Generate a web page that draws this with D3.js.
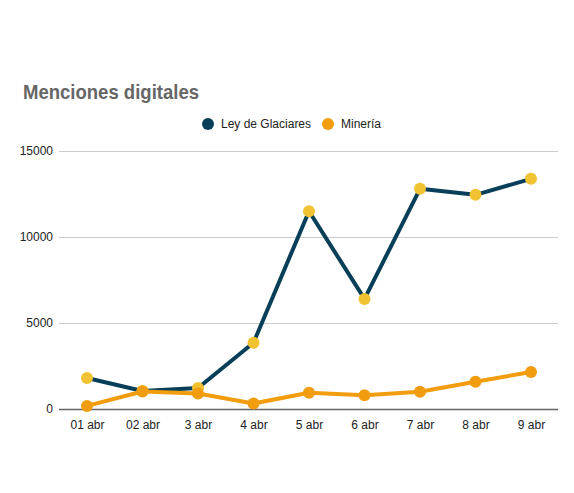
<!DOCTYPE html>
<html lang="es">
  <head>
    <meta charset="UTF-8" />
    <title>Menciones digitales</title>
    <script src="https://cdn.jsdelivr.net/npm/d3@7/dist/d3.min.js"></script>
    <style>
      body { margin: 0; background: #fff; }
      text { font-family: 'Liberation Sans', Arial, sans-serif; }
    </style>
  </head>
  <body>
    <svg width="574" height="493"></svg>
    <script>
      // datos
      const days = ['01 abr', '02 abr', '3 abr', '4 abr', '5 abr', '6 abr', '7 abr', '8 abr', '9 abr']
      const glaciares = [1800, 1050, 1220, 3850, 11500, 6400, 12800, 12450, 13380]
      const mineria = [180, 1020, 900, 320, 940, 800, 1000, 1580, 2150]
      const yTicks = [0, 5000, 10000, 15000]

      const svg = d3.select('svg')

      const x = d3.scalePoint().domain(days).range([87, 531])
      const y = d3.scaleLinear().domain([0, 15000]).range([409, 151])

      // título
      svg.append('text')
        .attr('x', 23).attr('y', 99)
        .attr('font-size', 21).attr('font-weight', 'bold')
        .attr('fill', '#666')
        .attr('textLength', 176)
        .attr('lengthAdjust', 'spacingAndGlyphs')
        .text('Menciones digitales')

      // leyenda
      const legend = [
        { name: 'Ley de Glaciares', color: '#063f57', x: 208 },
        { name: 'Minería', color: '#f29c0f', x: 328 },
      ]
      const lg = svg.append('g').selectAll('g').data(legend).enter().append('g')
      lg.append('circle').attr('cx', d => d.x).attr('cy', 124).attr('r', 6).attr('fill', d => d.color)
      lg.append('text').attr('x', d => d.x + 13).attr('y', 128)
        .attr('font-size', 12).attr('fill', '#222').text(d => d.name)

      // rejilla y eje y
      const yAxis = d3.axisLeft(y).tickValues(yTicks).tickFormat(d3.format('d'))
        .tickSize(-(558 - 59)).tickPadding(6)
      const gy = svg.append('g').attr('transform', 'translate(59,0)').call(yAxis)
      gy.select('.domain').remove()
      gy.selectAll('line').attr('stroke', '#cccccc')
      gy.selectAll('text').attr('font-size', 12).attr('fill', '#222')
      gy.selectAll('.tick').filter(d => d === 0).select('line').attr('stroke', '#666').attr('stroke-width', 1.5)

      // eje x
      const xAxis = d3.axisBottom(x).tickSize(0).tickPadding(11)
      const gx = svg.append('g').attr('transform', 'translate(0,409)').call(xAxis)
      gx.select('.domain').remove()
      gx.selectAll('text').attr('font-size', 12).attr('fill', '#222')

      const line = d3.line().x((d, i) => x(days[i])).y(d => y(d))

      const series = [
        { values: glaciares, stroke: '#063f57', marker: '#f1c232' },
        { values: mineria, stroke: '#f29c0f', marker: '#f29c0f' },
      ]

      series.forEach(s => {
        svg.append('path')
          .datum(s.values)
          .attr('fill', 'none')
          .attr('stroke', s.stroke)
          .attr('stroke-width', 4)
          .attr('stroke-linejoin', 'round')
          .attr('d', line)
        svg.append('g').selectAll('circle')
          .data(s.values)
          .enter()
          .append('circle')
          .attr('cx', (d, i) => x(days[i]))
          .attr('cy', d => y(d))
          .attr('r', 6)
          .attr('fill', s.marker)
      })
    </script>
  </body>
</html>
